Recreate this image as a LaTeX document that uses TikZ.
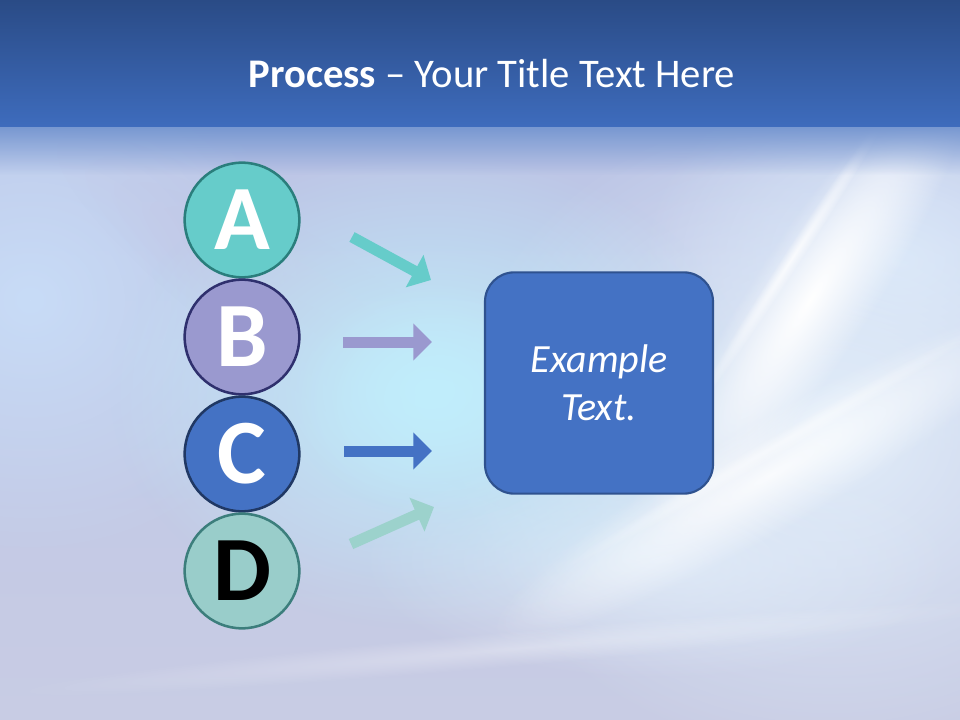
\documentclass[tikz,border=0pt]{standalone}
\usepackage{fontspec}
\setmainfont{Carlito}
\usetikzlibrary{arrows.meta,fadings}
\definecolor{bandTop}{HTML}{2A4B86}
\definecolor{bandBot}{HTML}{3E6CBD}
\definecolor{bodyTop}{HTML}{BCC5E6}
\definecolor{bodyMid}{HTML}{C9D4EF}
\definecolor{bodyBot}{HTML}{C8CCE4}
\definecolor{glowC}{HTML}{C0EEFC}
\definecolor{leftB}{HTML}{C8DCF7}
\definecolor{lavB}{HTML}{C2C4E2}
\definecolor{rightL}{HTML}{E2EEFA}
\definecolor{rightB}{HTML}{D6E4F8}
\definecolor{tealF}{HTML}{66CCCA}
\definecolor{tealD}{HTML}{2A7E7C}
\definecolor{lavF}{HTML}{9A99CF}
\definecolor{lavD}{HTML}{2F306E}
\definecolor{blueF}{HTML}{4472C4}
\definecolor{blueD}{HTML}{203864}
\definecolor{mintF}{HTML}{99CDCA}
\definecolor{mintD}{HTML}{3C7E7C}
\definecolor{mintA}{HTML}{9CD2CC}
\definecolor{boxD}{HTML}{2F528F}
\tikzfading[name=softglow, inner color=transparent!0, outer color=transparent!100]
\tikzfading[name=downfade, top color=transparent!0, bottom color=transparent!100]
\tikzset{
  letter/.style={circle, minimum size=86pt, inner sep=0pt, line width=1.9pt,
    font=\fontsize{69}{69}\selectfont\bfseries, text=white},
  blockarrow/.style={line width=8.25pt, -{Triangle[length=14pt,width=27pt]}},
  glow/.style={path fading=softglow},
}
\begin{document}
\begin{tikzpicture}[x=0.75pt,y=-0.75pt]
\useasboundingbox (0,0) rectangle (960,720);
% ---------- background ----------
\shade[top color=bodyTop, middle color=bodyMid, bottom color=bodyBot] (0,127) rectangle (960,720);
\fill[leftB, glow] (30,300) ellipse (280 and 260);
\begin{scope}[transform canvas={rotate around={-35:(330,330)}}]
  \fill[lavB, glow, opacity=0.8] (330,330) ellipse (330 and 70);
\end{scope}
\fill[rightB, glow] (900,260) ellipse (260 and 200);
\fill[rightL, glow] (830,430) ellipse (380 and 330);
\fill[rightL, glow, opacity=0.8] (660,560) ellipse (300 and 120);
\fill[glowC, glow] (430,390) ellipse (320 and 240);
\fill[glowC, glow, opacity=0.8] (440,400) ellipse (150 and 120);
\begin{scope}[transform canvas={rotate around={57:(810,300)}}]
  \fill[white, glow] (810,300) ellipse (280 and 60);
  \fill[white, glow, opacity=0.8] (835,262) ellipse (180 and 9);
\end{scope}
\begin{scope}[transform canvas={rotate around={30:(770,475)}}]
  \fill[white, glow, opacity=0.85] (770,475) ellipse (320 and 55);
  \fill[white, glow, opacity=0.5] (790,452) ellipse (250 and 10);
\end{scope}
\begin{scope}[transform canvas={rotate around={5:(520,648)}}]
  \fill[white, glow, opacity=0.3] (520,648) ellipse (520 and 18);
\end{scope}
\shade[top color=bandTop, bottom color=bandBot] (0,0) rectangle (960,127);
\fill[bandBot!70!white, path fading=downfade] (0,127) rectangle (960,175);
% ---------- title ----------
\node[anchor=base, text=white, font=\fontsize{30.5}{30.5}\selectfont] (title) at (492,88)
  {\textbf{Process} -- Your Title Text Here};
% ---------- circles ----------
\node[letter, fill=tealF, draw=tealD] (A) at (242,220) {A};
\node[letter, fill=lavF, draw=lavD] (B) at (242,337) {B};
\node[letter, fill=blueF, draw=blueD] (C) at (242,454) {C};
\node[letter, fill=mintF, draw=mintD, text=black] (D) at (242,571) {D};
% ---------- box ----------
\node[rounded corners=22pt, minimum width=171pt, minimum height=166pt, fill=blueF,
  draw=boxD, line width=1.6pt, text=white, align=center,
  font=\fontsize{30}{36}\selectfont\itshape] (box) at (599,383) {Example\\Text.};
% ---------- arrows ----------
\coordinate (a1) at (352,237); \coordinate (a2) at (431,280);
\coordinate (b1) at (343,342); \coordinate (b2) at (432,342);
\coordinate (c1) at (344,451); \coordinate (c2) at (432,451);
\coordinate (d1) at (351,544); \coordinate (d2) at (434,507);
\draw[blockarrow, draw=tealF] (a1) -- (a2);
\draw[blockarrow, draw=lavF] (b1) -- (b2);
\draw[blockarrow, draw=blueF] (c1) -- (c2);
\draw[blockarrow, draw=mintA] (d1) -- (d2);
\end{tikzpicture}
\end{document}
